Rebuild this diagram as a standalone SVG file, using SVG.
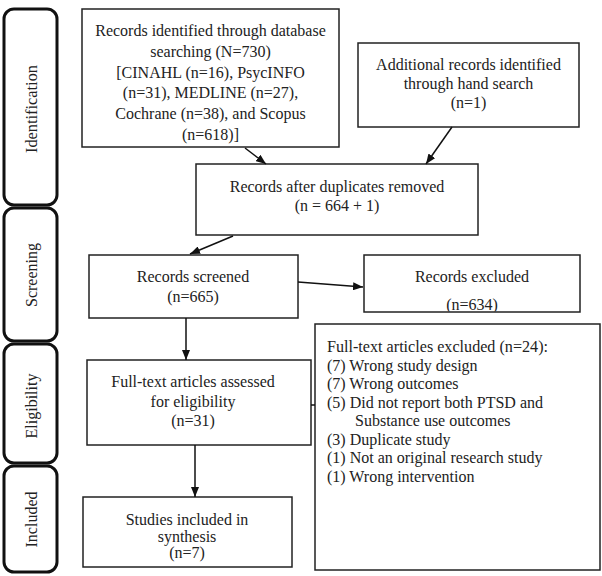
<svg xmlns="http://www.w3.org/2000/svg" width="602" height="576" viewBox="0 0 602 576">
<defs>
<marker id="ah" markerWidth="10" markerHeight="8" refX="10" refY="4" orient="auto" markerUnits="userSpaceOnUse">
<path d="M0,0 L10,4 L0,8 Z" fill="#111"/>
</marker>
<clipPath id="exclClip"><rect x="364" y="255" width="216" height="56.5"/></clipPath>
<style>
.box{fill:#fff;stroke:#222;stroke-width:1.5}
.frame{fill:none;stroke:#222;stroke-width:1.5}
.phase{fill:#fff;stroke:#111;stroke-width:3}
text{font-family:"Liberation Serif","Times New Roman",serif;font-size:16px;fill:#222}
.c{text-anchor:middle}
.conn{stroke:#111;stroke-width:1.5;fill:none}
</style>
</defs>
<rect width="602" height="576" fill="#fff"/>
<g id="phase-identification"><rect class="phase" x="4" y="9" width="53" height="196" rx="10"/><text class="c" transform="translate(37,109) rotate(-90)" textLength="88" lengthAdjust="spacingAndGlyphs">Identification</text></g>
<g id="phase-screening"><rect class="phase" x="4" y="208" width="53" height="133" rx="10"/><text class="c" transform="translate(37,275) rotate(-90)">Screening</text></g>
<g id="phase-eligibility"><rect class="phase" x="4" y="344" width="53" height="119" rx="10"/><text class="c" transform="translate(37,406) rotate(-90)">Eligibility</text></g>
<g id="phase-included"><rect class="phase" x="4" y="466" width="53" height="106" rx="10"/><text class="c" transform="translate(37,519.5) rotate(-90)">Included</text></g>

<g id="records-identified"><rect class="box" x="82" y="9" width="257" height="138"/>
<text class="c" x="210.5" y="36">Records identified through database</text>
<text class="c" x="210.5" y="57">searching (N=730)</text>
<text class="c" x="210.5" y="77.5">[CINAHL (n=16), PsycINFO</text>
<text class="c" x="210.5" y="98">(n=31), MEDLINE (n=27),</text>
<text class="c" x="210.5" y="119">Cochrane (n=38), and Scopus</text>
<text class="c" x="210.5" y="140">(n=618)]</text></g>

<g id="additional-records"><rect class="box" x="358" y="43" width="221" height="84"/>
<text class="c" x="468.5" y="70">Additional records identified</text>
<text class="c" x="468.5" y="89">through hand search</text>
<text class="c" x="468.5" y="108">(n=1)</text></g>

<g id="after-duplicates"><rect class="box" x="196" y="164" width="282" height="71"/>
<text class="c" x="337" y="192">Records after duplicates removed</text>
<text class="c" x="337" y="211">(n = 664 + 1)</text></g>

<g id="records-screened"><rect class="box" x="89" y="255" width="209" height="63"/>
<text class="c" x="193" y="282">Records screened</text>
<text class="c" x="193" y="302">(n=665)</text></g>

<g id="records-excluded"><rect x="364" y="255" width="216" height="57" fill="#fff"/>
<text class="c" x="472" y="282">Records excluded</text>
<text class="c" x="472" y="310" clip-path="url(#exclClip)">(n=634)</text>
<rect class="frame" x="364" y="255" width="216" height="57"/></g>

<g id="fulltext-excluded"><rect class="box" x="315" y="324" width="285" height="246"/>
<text x="327" y="352" textLength="221" lengthAdjust="spacingAndGlyphs">Full-text articles excluded (n=24):</text>
<text x="327" y="370.5">(7) Wrong study design</text>
<text x="327" y="389">(7) Wrong outcomes</text>
<text x="327" y="407.5">(5) Did not report both PTSD and</text>
<text x="355" y="426">Substance use outcomes</text>
<text x="327" y="444.5">(3) Duplicate study</text>
<text x="327" y="463">(1) Not an original research study</text>
<text x="327" y="481.5">(1) Wrong intervention</text></g>

<g id="fulltext-assessed"><rect class="box" x="87" y="360" width="224" height="85"/>
<text class="c" x="193" y="387">Full-text articles assessed</text>
<text class="c" x="193" y="407">for eligibility</text>
<text class="c" x="193" y="426">(n=31)</text></g>

<g id="studies-included"><rect class="box" x="83" y="497" width="209" height="70"/>
<text class="c" x="187" y="525">Studies included in</text>
<text class="c" x="187" y="542">synthesis</text>
<text class="c" x="187" y="558">(n=7)</text></g>

<g id="connectors">
<line class="conn" x1="245" y1="148" x2="266" y2="164" marker-end="url(#ah)"/>
<line class="conn" x1="452" y1="127" x2="426" y2="164" marker-end="url(#ah)"/>
<line class="conn" x1="233" y1="236" x2="190" y2="254" marker-end="url(#ah)"/>
<line class="conn" x1="298" y1="282" x2="363" y2="287" marker-end="url(#ah)"/>
<line class="conn" x1="186" y1="318" x2="186" y2="360" marker-end="url(#ah)"/>
<line class="conn" x1="311" y1="405" x2="315" y2="405"/>
<line class="conn" x1="195" y1="445" x2="195" y2="497" marker-end="url(#ah)"/>
</g>
</svg>
